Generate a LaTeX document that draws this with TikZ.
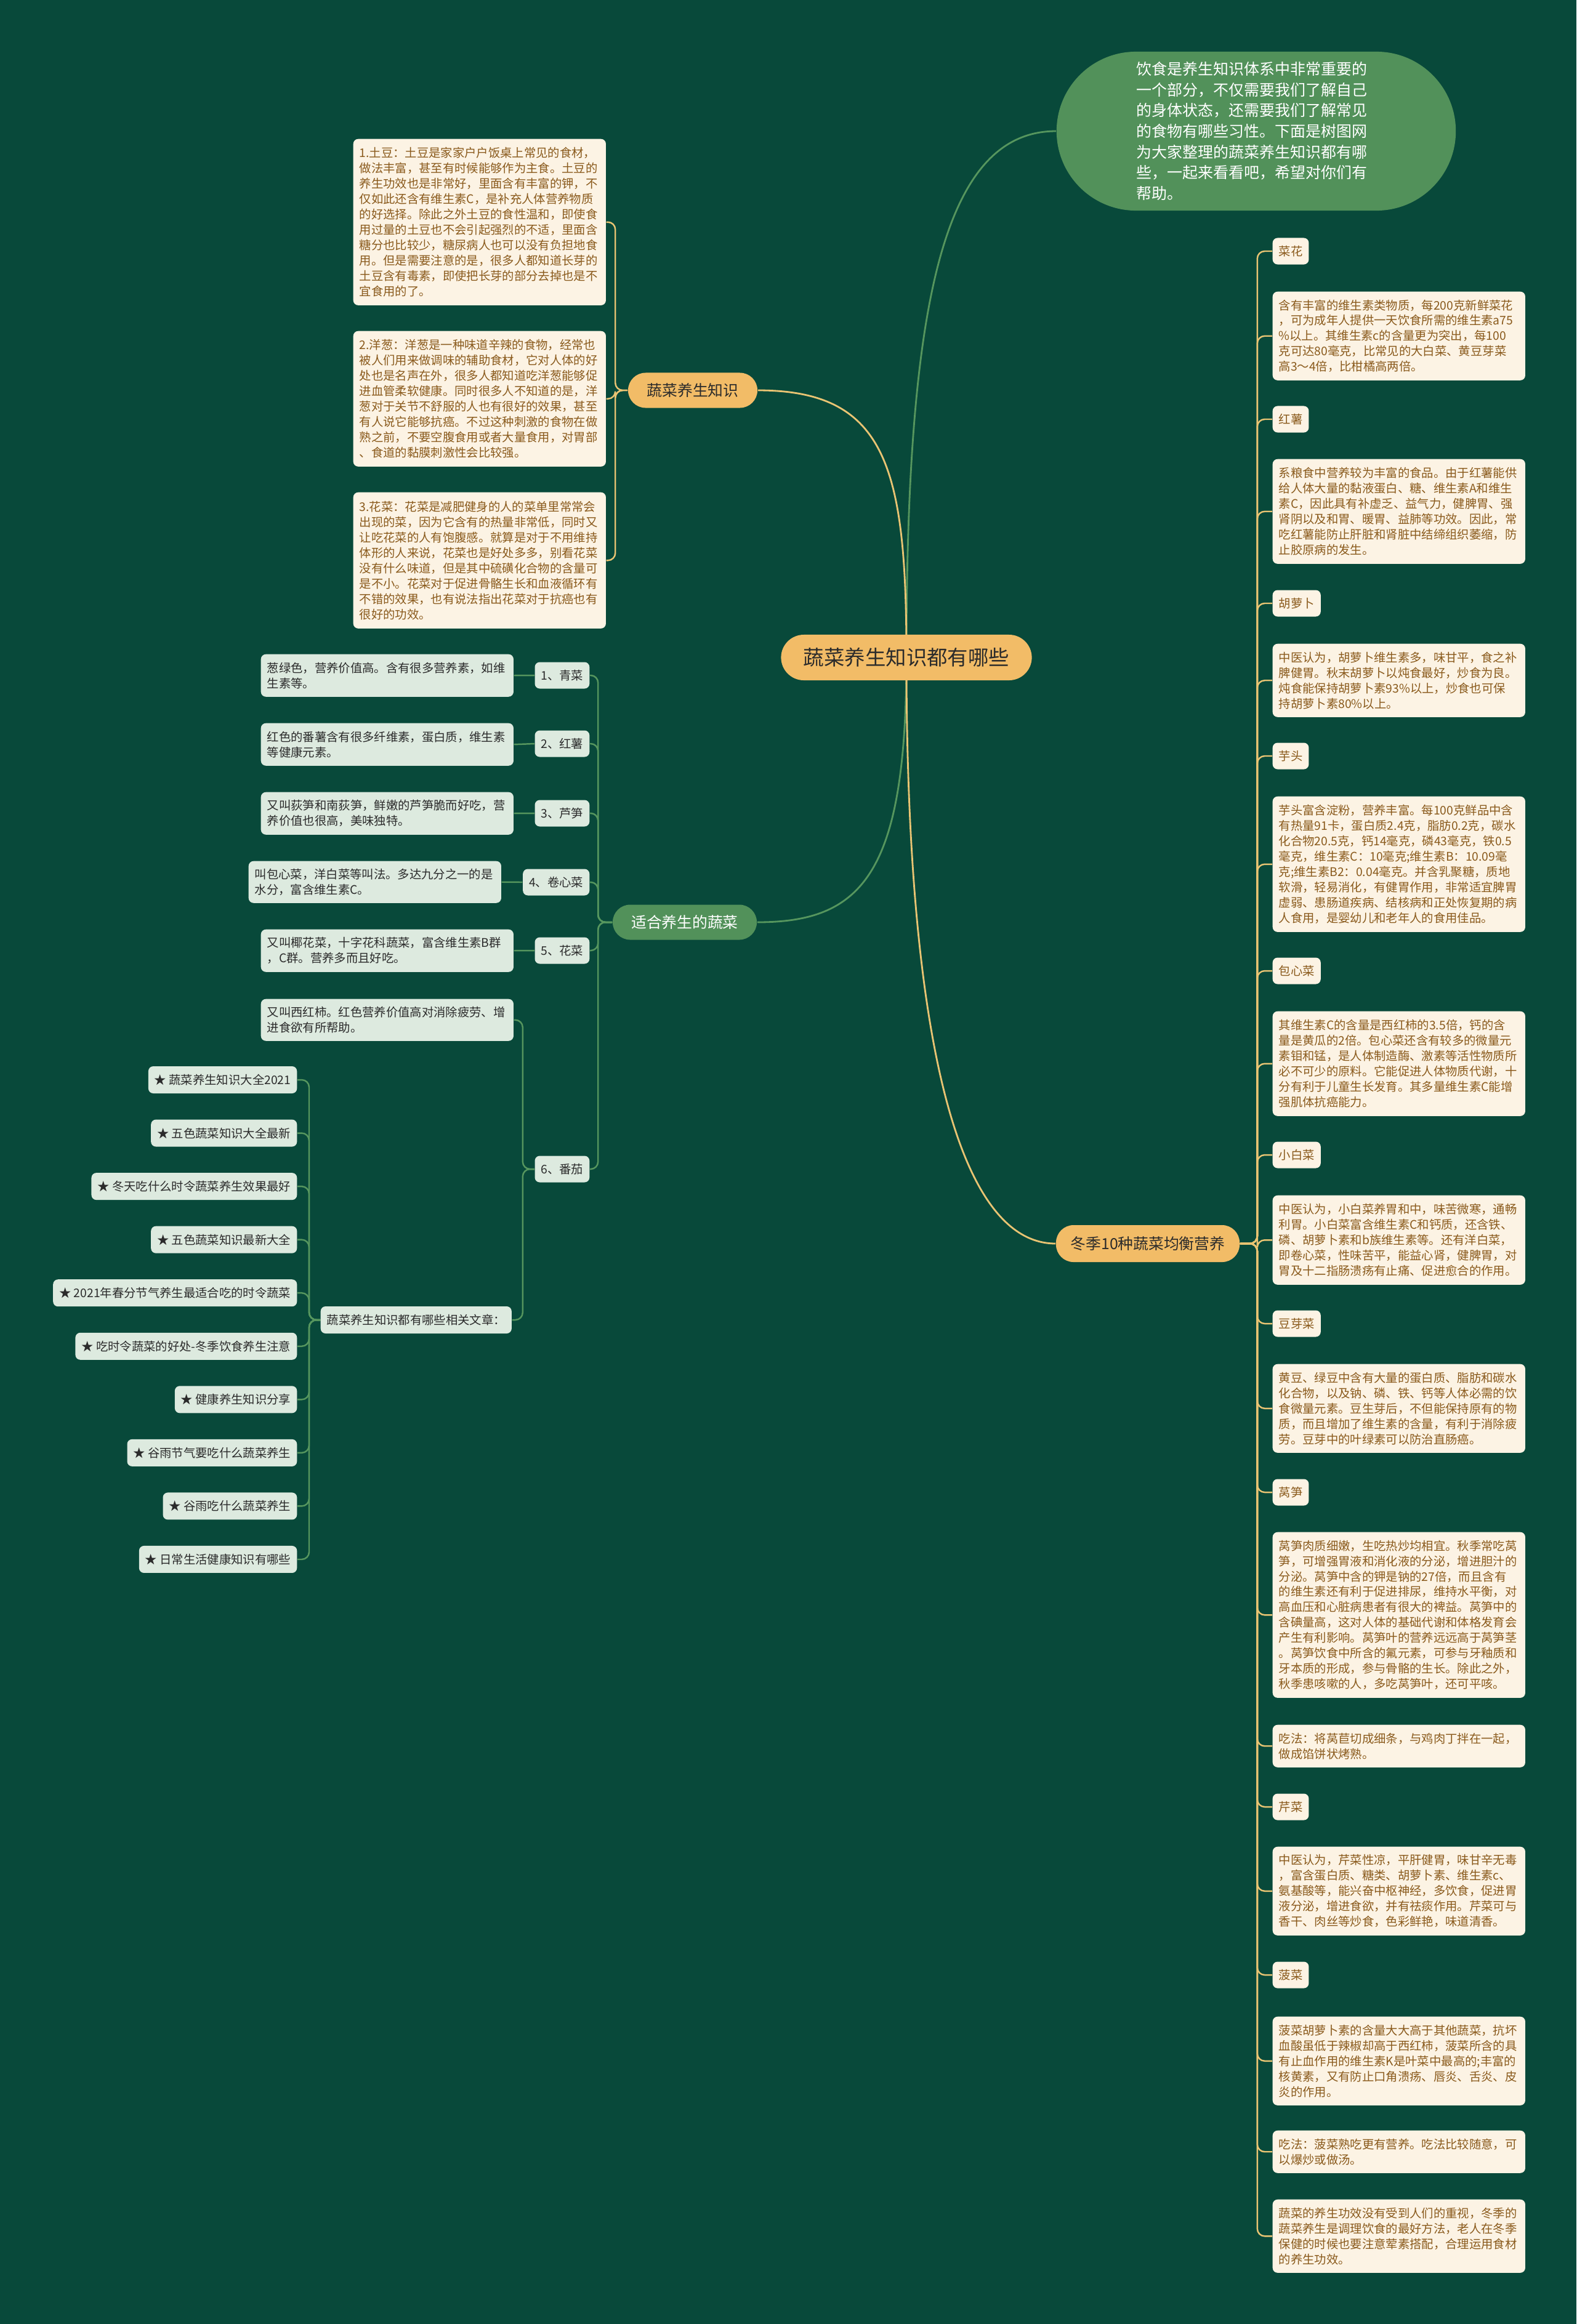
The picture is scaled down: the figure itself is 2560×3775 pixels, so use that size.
\documentclass[tikz,border=0pt]{standalone}
\usepackage{fontspec}
\setmainfont{Noto Sans CJK SC}

\definecolor{bgreen}{HTML}{08493A}
\definecolor{rootgold}{HTML}{F2BC67}
\definecolor{linegold}{HTML}{E9C473}
\definecolor{linegreen}{HTML}{56965E}
\definecolor{bubble}{HTML}{52915A}
\definecolor{cream}{HTML}{FCF3E4}
\definecolor{brownink}{HTML}{8A5A1C}
\definecolor{palegreen}{HTML}{DDEADF}
\definecolor{darkink}{HTML}{2B2B2B}

\newcommand{\txtfont}{\fontsize{5.5}{7.1}\selectfont}
\newcommand{\introfont}{\fontsize{7.1}{9.56}\selectfont}
\newcommand{\topicfont}{\fontsize{7.05}{8.5}\selectfont}
\newcommand{\rootfont}{\fontsize{9.5}{11}\selectfont}

\pgfdeclarelayer{bg}
\pgfdeclarelayer{edges}
\pgfsetlayers{bg,edges,main}

\begin{document}
\begin{tikzpicture}[x=0.01cm, y=-0.01cm,
    root/.style={fill=rootgold, text=darkink, font=\rootfont, rounded corners=0.37cm,
        minimum width=4.07cm, minimum height=0.74cm, inner sep=0pt},
    topic/.style={text=darkink, font=\topicfont, rounded corners=0.285cm,
        minimum height=0.57cm, inner sep=0pt},
    cbox/.style={fill=cream, text=brownink, font=\txtfont, rounded corners=0.08cm,
        text width=3.9cm, inner xsep=0.1cm, inner ysep=0pt, align=left, anchor=north west},
    gbox/.style={cbox, fill=palegreen, text=darkink},
    clabel/.style={fill=cream, text=brownink, font=\txtfont, rounded corners=0.08cm,
        inner xsep=0.1cm, inner ysep=0pt, minimum height=0.43cm, anchor=west},
    glabel/.style={clabel, fill=palegreen, text=darkink, anchor=east},
    goldline/.style={draw=linegold, line width=0.7pt},
    greenline/.style={draw=linegreen, line width=0.7pt}]

    \useasboundingbox (0,0) rectangle (2560,3775);
    \begin{pgfonlayer}{bg}
        \fill[bgreen] (0,0) rectangle (2560,3775);
    \end{pgfonlayer}

    % 中心主题
    \node[root] (root) at (1472,1068) {蔬菜养生知识都有哪些};

    % 引言
    \node[fill=bubble, text=white, font=\introfont, rounded corners=1.29cm,
        text width=3.88cm, inner xsep=1.3cm, minimum height=2.58cm, align=left]
        (intro) at (2040,213) {饮食是养生知识体系中非常重要的\\一个部分，不仅需要我们了解自己\\的身体状态，还需要我们了解常见\\的食物有哪些习性。下面是树图网\\为大家整理的蔬菜养生知识都有哪\\些，一起来看看吧，希望对你们有\\帮助。};

    % 一级分支
    \node[topic, fill=rootgold, minimum width=2.10cm] (know) at (1125,634) {蔬菜养生知识};
    \node[topic, fill=bubble, text=white, minimum width=2.34cm] (suit) at (1112,1498) {适合养生的蔬菜};
    \node[topic, fill=rootgold, minimum width=2.98cm, minimum height=0.60cm] (winter) at (1864,2020) {冬季10种蔬菜均衡营养};

    % 蔬菜养生知识
    \node[cbox, minimum height=2.70cm] (tip1) at (573,225) {1.土豆：土豆是家家户户饭桌上常见的食材，\\做法丰富，甚至有时候能够作为主食。土豆的\\养生功效也是非常好，里面含有丰富的钾，不\\仅如此还含有维生素C，是补充人体营养物质\\的好选择。除此之外土豆的食性温和，即使食\\用过量的土豆也不会引起强烈的不适，里面含\\糖分也比较少，糖尿病人也可以没有负担地食\\用。但是需要注意的是，很多人都知道长芽的\\土豆含有毒素，即使把长芽的部分去掉也是不\\宜食用的了。};
    \node[cbox, minimum height=2.20cm] (tip2) at (573,537) {2.洋葱：洋葱是一种味道辛辣的食物，经常也\\被人们用来做调味的辅助食材，它对人体的好\\处也是名声在外，很多人都知道吃洋葱能够促\\进血管柔软健康。同时很多人不知道的是，洋\\葱对于关节不舒服的人也有很好的效果，甚至\\有人说它能够抗癌。不过这种刺激的食物在做\\熟之前，不要空腹食用或者大量食用，对胃部\\、食道的黏膜刺激性会比较强。};
    \node[cbox, minimum height=2.21cm] (tip3) at (573,799) {3.花菜：花菜是减肥健身的人的菜单里常常会\\出现的菜，因为它含有的热量非常低，同时又\\让吃花菜的人有饱腹感。就算是对于不用维持\\体形的人来说，花菜也是好处多多，别看花菜\\没有什么味道，但是其中硫磺化合物的含量可\\是不小。花菜对于促进骨骼生长和血液循环有\\不错的效果，也有说法指出花菜对于抗癌也有\\很好的功效。};

    % 适合养生的蔬菜
    \foreach \n/\y/\txt in {1/1097/1、青菜, 2/1208/2、红薯, 3/1321/3、芦笋,
        4/1433/4、卷心菜, 5/1544/5、花菜, 6/1899/6、番茄}
        \node[glabel] (l\n) at (958,\y) {\txt};
    \node[gbox, minimum height=0.69cm] (g1) at (423,1062) {葱绿色，营养价值高。含有很多营养素，如维\\生素等。};
    \node[gbox, minimum height=0.69cm] (g2) at (423,1174) {红色的番薯含有很多纤维素，蛋白质，维生素\\等健康元素。};
    \node[gbox, minimum height=0.69cm] (g3) at (423,1286) {又叫荻笋和南荻笋，鲜嫩的芦笋脆而好吃，营\\养价值也很高，美味独特。};
    \node[gbox, minimum height=0.68cm] (g4) at (403,1398) {叫包心菜，洋白菜等叫法。多达九分之一的是\\水分，富含维生素C。};
    \node[gbox, minimum height=0.69cm] (g5) at (423,1509) {又叫椰花菜，十字花科蔬菜，富含维生素B群\\，C群。营养多而且好吃。};
    \node[gbox, minimum height=0.68cm] (g6) at (423,1622) {又叫西红柿。红色营养价值高对消除疲劳、增\\进食欲有所帮助。};
    \node[glabel, anchor=west, minimum height=0.44cm] (rel) at (520,2144) {蔬菜养生知识都有哪些相关文章：};
    \foreach \txt [count=\i] in {★ 蔬菜养生知识大全2021, ★ 五色蔬菜知识大全最新,
        ★ 冬天吃什么时令蔬菜养生效果最好, ★ 五色蔬菜知识最新大全,
        ★ 2021年春分节气养生最适合吃的时令蔬菜, ★ 吃时令蔬菜的好处-冬季饮食养生注意,
        ★ 健康养生知识分享, ★ 谷雨节气要吃什么蔬菜养生, ★ 谷雨吃什么蔬菜养生,
        ★ 日常生活健康知识有哪些}
        \node[glabel, minimum height=0.44cm] (s\i) at (483,{1754+86.55*(\i-1)}) {\txt};

    % 冬季10种蔬菜均衡营养
    \foreach \n/\y/\txt in {caihua/408/菜花, hongshu/681/红薯, huluobo/980/胡萝卜,
        yutou/1228/芋头, baoxin/1577/包心菜, xiaobai/1876/小白菜, douya/2150/豆芽菜,
        wosun/2424/莴笋, qincai/2935/芹菜, bocai/3208/菠菜}
        \node[clabel] (\n) at (2066,\y) {\txt};
    \node[cbox, minimum height=1.44cm] (caihuaT) at (2066,473) {含有丰富的维生素类物质，每200克新鲜菜花\\，可为成年人提供一天饮食所需的维生素a75\\\%以上。其维生素c的含量更为突出，每100\\克可达80毫克，比常见的大白菜、黄豆芽菜\\高3～4倍，比柑橘高两倍。};
    \node[cbox, minimum height=1.70cm] (hongshuT) at (2066,745) {系粮食中营养较为丰富的食品。由于红薯能供\\给人体大量的黏液蛋白、糖、维生素A和维生\\素C，因此具有补虚乏、益气力，健脾胃、强\\肾阴以及和胃、暖胃、益肺等功效。因此，常\\吃红薯能防止肝脏和肾脏中结缔组织萎缩，防\\止胶原病的发生。};
    \node[cbox, minimum height=1.19cm] (huluoboT) at (2066,1045) {中医认为，胡萝卜维生素多，味甘平，食之补\\脾健胃。秋末胡萝卜以炖食最好，炒食为良。\\炖食能保持胡萝卜素93\%以上，炒食也可保\\持胡萝卜素80\%以上。};
    \node[cbox, minimum height=2.20cm] (yutouT) at (2066,1293) {芋头富含淀粉，营养丰富。每100克鲜品中含\\有热量91卡，蛋白质2.4克，脂肪0.2克，碳水\\化合物20.5克，钙14毫克，磷43毫克，铁0.5\\毫克，维生素C：10毫克;维生素B：10.09毫\\克;维生素B2：0.04毫克。并含乳聚糖，质地\\软滑，轻易消化，有健胃作用，非常适宜脾胃\\虚弱、患肠道疾病、结核病和正处恢复期的病\\人食用，是婴幼儿和老年人的食用佳品。};
    \node[cbox, minimum height=1.70cm] (baoxinT) at (2066,1642) {其维生素C的含量是西红柿的3.5倍，钙的含\\量是黄瓜的2倍。包心菜还含有较多的微量元\\素钼和锰，是人体制造酶、激素等活性物质所\\必不可少的原料。它能促进人体物质代谢，十\\分有利于儿童生长发育。其多量维生素C能增\\强肌体抗癌能力。};
    \node[cbox, minimum height=1.45cm] (xiaobaiT) at (2066,1941) {中医认为，小白菜养胃和中，味苦微寒，通畅\\利胃。小白菜富含维生素C和钙质，还含铁、\\磷、胡萝卜素和b族维生素等。还有洋白菜，\\即卷心菜，性味苦平，能益心肾，健脾胃，对\\胃及十二指肠溃疡有止痛、促进愈合的作用。};
    \node[cbox, minimum height=1.44cm] (douyaT) at (2066,2215) {黄豆、绿豆中含有大量的蛋白质、脂肪和碳水\\化合物，以及钠、磷、铁、钙等人体必需的饮\\食微量元素。豆生芽后，不但能保持原有的物\\质，而且增加了维生素的含量，有利于消除疲\\劳。豆芽中的叶绿素可以防治直肠癌。};
    \node[cbox, minimum height=2.69cm] (wosunT) at (2066,2488) {莴笋肉质细嫩，生吃热炒均相宜。秋季常吃莴\\笋，可增强胃液和消化液的分泌，增进胆汁的\\分泌。莴笋中含的钾是钠的27倍，而且含有\\的维生素还有利于促进排尿，维持水平衡，对\\高血压和心脏病患者有很大的裨益。莴笋中的\\含碘量高，这对人体的基础代谢和体格发育会\\产生有利影响。莴笋叶的营养远远高于莴笋茎\\。莴笋饮食中所含的氟元素，可参与牙釉质和\\牙本质的形成，参与骨骼的生长。除此之外，\\秋季患咳嗽的人，多吃莴笋叶，还可平咳。};
    \node[cbox, minimum height=0.69cm] (wosunE) at (2066,2801) {吃法：将莴苣切成细条，与鸡肉丁拌在一起，\\做成馅饼状烤熟。};
    \node[cbox, minimum height=1.44cm] (qincaiT) at (2066,2999) {中医认为，芹菜性凉，平肝健胃，味甘辛无毒\\，富含蛋白质、糖类、胡萝卜素、维生素c、\\氨基酸等，能兴奋中枢神经，多饮食，促进胃\\液分泌，增进食欲，并有祛痰作用。芹菜可与\\香干、肉丝等炒食，色彩鲜艳，味道清香。};
    \node[cbox, minimum height=1.44cm] (bocaiT) at (2066,3275) {菠菜胡萝卜素的含量大大高于其他蔬菜，抗坏\\血酸虽低于辣椒却高于西红柿，菠菜所含的具\\有止血作用的维生素K是叶菜中最高的;丰富的\\核黄素，又有防止口角溃疡、唇炎、舌炎、皮\\炎的作用。};
    \node[cbox, minimum height=0.69cm] (bocaiE) at (2066,3460) {吃法：菠菜熟吃更有营养。吃法比较随意，可\\以爆炒或做汤。};
    \node[cbox, minimum height=1.19cm] (summary) at (2066,3572) {蔬菜的养生功效没有受到人们的重视，冬季的\\蔬菜养生是调理饮食的最好方法，老人在冬季\\保健的时候也要注意荤素搭配，合理运用食材\\的养生功效。};

    % 连线
    \begin{pgfonlayer}{edges}
        \draw[greenline, line width=0.8pt] (root.center) .. controls (1472,500) and (1530,213) .. (intro.west);
        \draw[goldline, line width=0.8pt] (root.center) .. controls (1472,760) and (1440,634) .. (know.east);
        \draw[greenline, line width=0.8pt] (root.center) .. controls (1472,1420) and (1400,1498) .. (suit.east);
        \draw[goldline, line width=0.8pt] (root.center) .. controls (1472,1700) and (1560,2020) .. (winter.west);

        \foreach \b in {tip1,tip2,tip3}
            \draw[goldline, rounded corners=0.12cm] (know.west) -- ++(-20,0) |- (\b.east);
        \foreach \n in {1,...,6}
            \draw[greenline, rounded corners=0.12cm] (suit.west) -- ++(-23,0) |- (l\n.east);
        \foreach \n in {1,...,5}
            \draw[greenline] (l\n.west) -- (g\n.east);
        \foreach \b in {g6,rel}
            \draw[greenline, rounded corners=0.12cm] (l6.west) -- ++(-19,0) |- (\b.east);
        \foreach \n in {1,...,10}
            \draw[greenline, rounded corners=0.12cm] (rel.west) -- ++(-18,0) |- (s\n.east);
        \foreach \b in {caihua,caihuaT,hongshu,hongshuT,huluobo,huluoboT,yutou,yutouT,
            baoxin,baoxinT,xiaobai,xiaobaiT,douya,douyaT,wosun,wosunT,wosunE,
            qincai,qincaiT,bocai,bocaiT,bocaiE,summary}
            \draw[goldline, rounded corners=0.12cm] (winter.east) -- ++(28,0) |- (\b.west);
    \end{pgfonlayer}
\end{tikzpicture}
\end{document}
